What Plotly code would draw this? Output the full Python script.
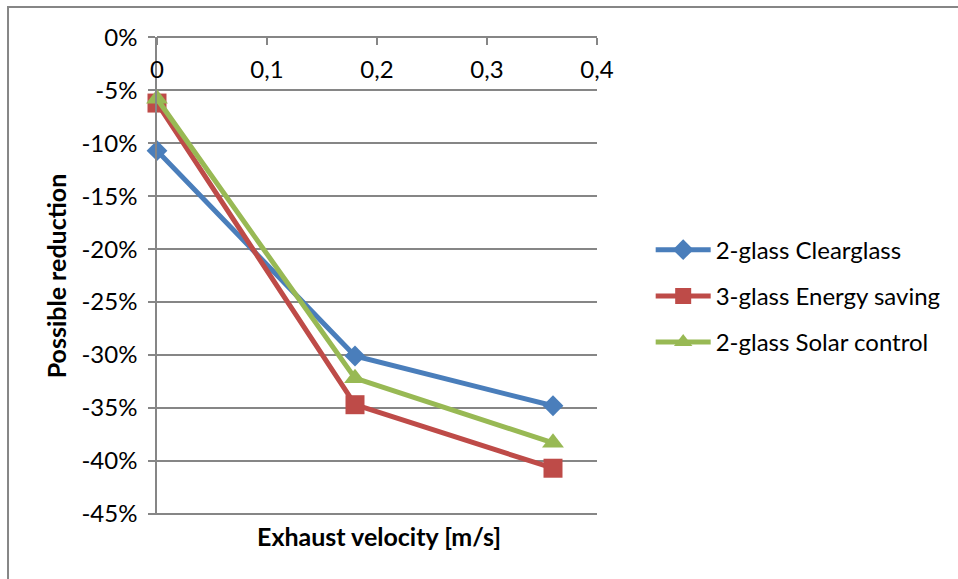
import plotly.graph_objects as go

# Exhaust velocity [m/s]
velocity = [0, 0.18, 0.36]

# Possible reduction per glazing type, in percent
clearglass_2 = [-10.7, -30.1, -34.8]
energy_saving_3 = [-6.2, -34.7, -40.7]
solar_control_2 = [-5.8, -32.2, -38.3]

series_names = ["2-glass Clearglass", "3-glass Energy saving", "2-glass Solar control"]

x_tickvals = [0, 0.1, 0.2, 0.3, 0.4]
x_ticktext = ["0", "0,1", "0,2", "0,3", "0,4"]
y_tickvals = [0, -5, -10, -15, -20, -25, -30, -35, -40, -45]
y_ticktext = ["0%", "-5%", "-10%", "-15%", "-20%", "-25%", "-30%", "-35%", "-40%", "-45%"]

FONT = "Lato"
FS = 24
GRID = "#868686"

styles = [
    ("#4A7EBB", "diamond", 16),
    ("#BE4B48", "square", 19),
    ("#98B954", "triangle-up", 19),
]

fig = go.Figure()
for i, (name, ys, (color, sym, size)) in enumerate(
    zip(series_names, [clearglass_2, energy_saving_3, solar_control_2], styles)
):
    fig.add_trace(go.Scatter(
        x=velocity, y=ys, name=name, mode="lines+markers",
        line=dict(color=color, width=5),
        marker=dict(symbol=sym, size=size, color=color, line=dict(width=0)),
        legendgroup=f"g{i}",
        cliponaxis=False,
    ))

fig.update_layout(
    width=958, height=579,
    margin=dict(l=157, r=361, t=37, b=64, autoexpand=False),
    paper_bgcolor="white", plot_bgcolor="white",
    font=dict(family=FONT, size=FS, color="black"),
    showlegend=True,
    legend=dict(
        x=1.122, y=0.458, xanchor="left", yanchor="middle",
        font=dict(family=FONT, size=FS, color="black"),
        tracegroupgap=12, itemwidth=55, bgcolor="rgba(0,0,0,0)",
    ),
    # category axis crosses the value axis at 0%, labels hang below it
    xaxis=dict(
        range=[0, 0.4], anchor="free", position=1, side="bottom",
        tickvals=x_tickvals, ticktext=x_ticktext,
        ticks="outside", ticklen=7, tickwidth=1.5, tickcolor=GRID,
        showline=True, linecolor=GRID, linewidth=1.5,
        showgrid=False, zeroline=False,
        tickfont=dict(family=FONT, size=FS, color="black"),
        ticklabelstandoff=4,
    ),
    yaxis=dict(
        range=[-45.12, 0.04],
        tickvals=y_tickvals, ticktext=y_ticktext,
        ticks="outside", ticklen=7, tickwidth=1.5, tickcolor=GRID,
        showline=True, linecolor=GRID, linewidth=1.5,
        showgrid=True, gridcolor=GRID, gridwidth=1.5,
        zeroline=False,
        tickfont=dict(family=FONT, size=FS, color="black"),
        ticklabelstandoff=6,
        title=dict(text="<b>Possible reduction</b>", font=dict(family=FONT, size=25), standoff=8),
    ),
    annotations=[dict(
        text="<b>Exhaust velocity [m/s]</b>", xref="paper", yref="paper",
        x=0.505, y=-0.008, xanchor="center", yanchor="top", showarrow=False,
        font=dict(family=FONT, size=25, color="black"),
    )],
    shapes=[dict(
        type="rect", xref="paper", yref="paper",
        x0=-0.3386, x1=1.9, y0=-0.3, y1=1.063,
        line=dict(color=GRID, width=2), fillcolor="rgba(0,0,0,0)", layer="below",
    )],
)

fig.write_html("out.html")
